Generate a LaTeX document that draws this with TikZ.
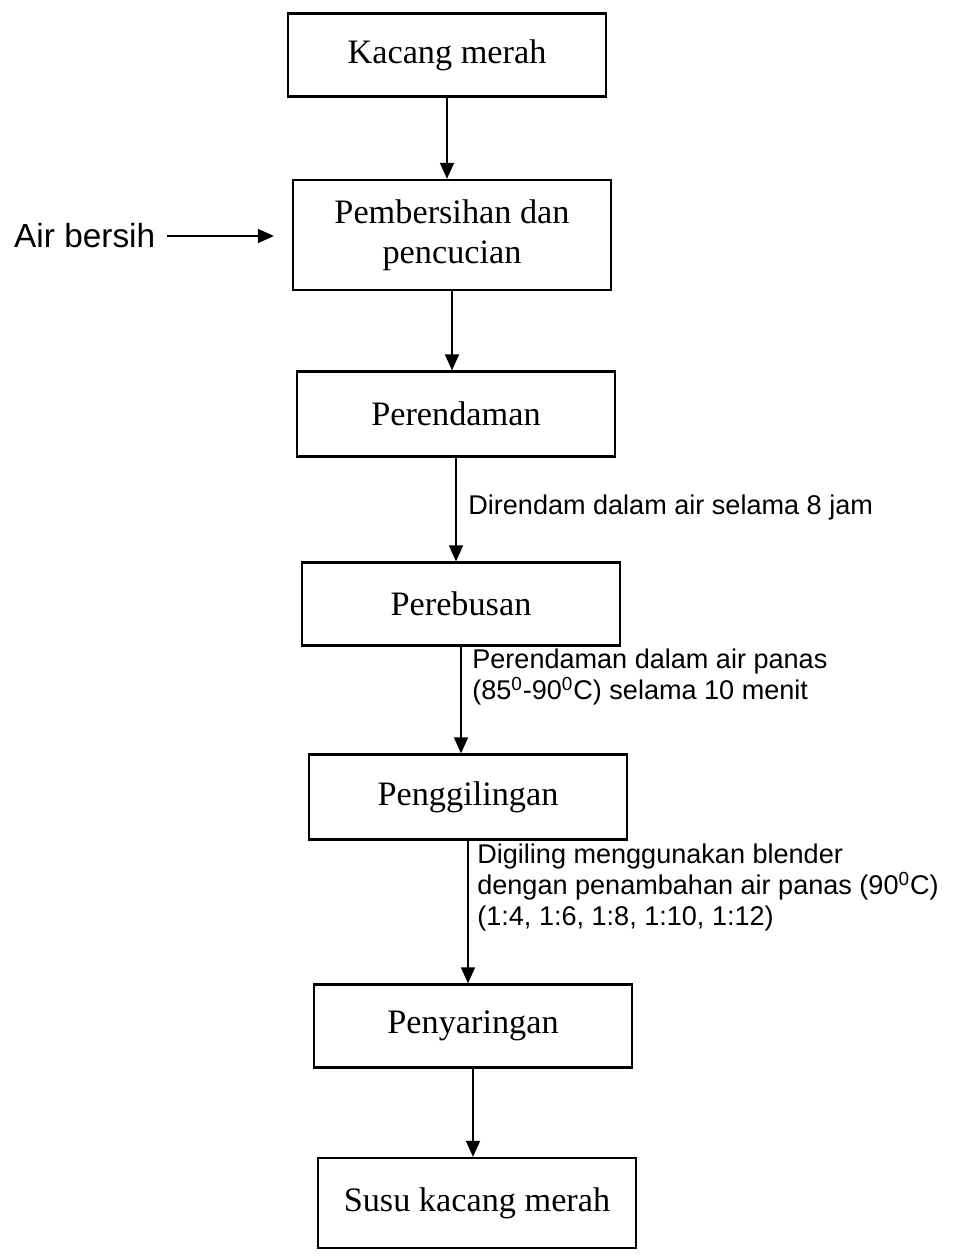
\documentclass[tikz,border=0pt]{standalone}
\usepackage{fontspec}
\setmainfont{Liberation Serif}
\setsansfont{Liberation Sans}
\usetikzlibrary{arrows.meta,positioning}

\begin{document}
\begin{tikzpicture}[
    stepbox/.style={draw, line width=1.3pt, minimum width=6.36cm, minimum height=1.66cm,
        align=center, font=\fontsize{19.5}{23}\selectfont},
    note/.style={align=left, inner sep=0pt, font=\sffamily\fontsize{15.4}{17.5}\selectfont},
    flow/.style={line width=0.9pt, -{Triangle[length=0.32cm,width=0.28cm]}}
]
    % Fixed page size (956x1258 px at 0.02cm per px)
    \useasboundingbox (0,0) rectangle (19.12,-25.16);

    % Process steps, top to bottom
    \node[stepbox] (kacang) at (8.94,-1.10) {Kacang merah};
    \node[stepbox, minimum height=2.2cm] (bersih) at (9.04,-4.70) {Pembersihan dan\\pencucian};
    \node[stepbox, minimum height=1.7cm] (rendam) at (9.12,-8.28) {Perendaman};
    \node[stepbox] (rebus) at (9.22,-12.08) {Perebusan};
    \node[stepbox, minimum height=1.7cm] (giling) at (9.36,-15.94) {Penggilingan};
    \node[stepbox] (saring) at (9.46,-20.52) {Penyaringan};
    \node[stepbox, minimum height=1.8cm] (susu) at (9.54,-24.06) {Susu kacang merah};

    % Input water
    \node[anchor=west, font=\sffamily\fontsize{19}{22}\selectfont] (air) at (0.16,-4.72) {Air bersih};
    \draw[flow, shorten <=3pt, shorten >=0.36cm] (air) -- (air -| bersih.west);

    % Arrows between the steps
    \foreach \a/\b in {kacang/bersih, bersih/rendam, rendam/rebus, rebus/giling, giling/saring, saring/susu} {
        \draw[flow] (\a.south) -- (\a.south |- \b.north);
    }

    % Notes beside the arrows
    \node[note, anchor=west] (catat1) at (9.36,-10.14) {Direndam dalam air selama 8 jam};
    \node[note, anchor=north west] (catat2) at (9.44,-12.98)
        {Perendaman dalam air panas\\(85\textsuperscript{0}-90\textsuperscript{0}C) selama 10 menit};
    \node[note, anchor=north west] (catat3) at (9.54,-16.88)
        {Digiling menggunakan blender\\dengan penambahan air panas (90\textsuperscript{0}C)\\(1:4, 1:6, 1:8, 1:10, 1:12)};
\end{tikzpicture}
\end{document}
